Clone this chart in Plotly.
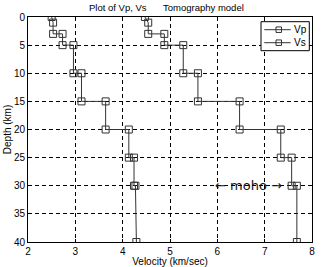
import plotly.graph_objects as go

depth = [0, 1, 3, 3, 5, 5, 10, 10, 15, 15, 20, 20, 25, 25, 30, 30, 40]
vp = [4.47, 4.54, 4.54, 4.88, 4.88, 5.28, 5.28, 5.59, 5.59, 6.47, 6.47, 7.34, 7.34, 7.57, 7.57, 7.68, 7.68]
vs = [2.50, 2.53, 2.53, 2.73, 2.73, 2.96, 2.96, 3.13, 3.13, 3.64, 3.64, 4.13, 4.13, 4.24, 4.24, 4.27, 4.29]
series_names = ["Vp", "Vs"]

xticks = [2, 3, 4, 5, 6, 7, 8]
yticks = [0, 5, 10, 15, 20, 25, 30, 35, 40]

FONT = "Liberation Sans Narrow, Arial Narrow, Liberation Sans, Arial, sans-serif"
LC = "#333333"

# plot area in pixels
L, R, T, B = 28, 312, 17, 242
W, H = 322, 267
def px(x):
    return (x - L) / (R - L)
def py(y):
    return 1 - (y - T) / (B - T)

fig = go.Figure()
for name, vals in zip(series_names, [vp, vs]):
    fig.add_trace(go.Scatter(
        x=vals, y=depth, name=name, mode="lines+markers",
        line=dict(color=LC, width=1),
        marker=dict(symbol="square-open", size=7, color=LC, line=dict(width=1, color=LC)),
        showlegend=False,
    ))

fig.add_annotation(x=6.66, y=30, xref="x", yref="y", text="\u2190 moho \u2192",
                   xanchor="center", yanchor="middle",
                   showarrow=False, font=dict(family="DejaVu Sans", size=13, color="#111111"))

# title pieces
fig.add_annotation(x=px(118), y=py(8), xref="paper", yref="paper", text="Plot of Vp, Vs",
                   xanchor="center", yanchor="middle",
                   showarrow=False, font=dict(family=FONT, size=9.5, color="black"))
fig.add_annotation(x=px(203.5), y=py(8), xref="paper", yref="paper", text="Tomography model",
                   xanchor="center", yanchor="middle",
                   showarrow=False, font=dict(family=FONT, size=9.5, color="black"))

# legend box (manual)
shapes = [dict(type="rect", xref="paper", yref="paper",
               x0=px(261), x1=px(309.3), y0=py(50.7), y1=py(21.7),
               line=dict(color="black", width=1), fillcolor="white", layer="above")]
for i, name in enumerate(series_names):
    yc = [29.7, 42.7][i]
    shapes.append(dict(type="line", xref="paper", yref="paper",
                       x0=px(264.3), x1=px(290.7), y0=py(yc), y1=py(yc),
                       line=dict(color=LC, width=1), layer="above"))
    shapes.append(dict(type="rect", xref="paper", yref="paper",
                       x0=px(276), x1=px(281.5), y0=py(yc + 2.75), y1=py(yc - 2.75),
                       line=dict(color=LC, width=1), fillcolor="rgba(0,0,0,0)", layer="above"))
    fig.add_annotation(x=px(292), y=py(yc), xref="paper", yref="paper", text=name,
                       xanchor="left", yanchor="middle", showarrow=False,
                       font=dict(family=FONT, size=10, color="black"))

axis_common = dict(
    showline=True, linecolor="black", linewidth=1, mirror=True,
    showgrid=True, gridcolor="black", gridwidth=1, griddash="4px,3px",
    zeroline=False, ticks="inside", ticklen=3, tickcolor="black",
    tickfont=dict(family=FONT, size=10, color="black"),
    automargin=False,
)

fig.update_layout(
    width=W, height=H,
    margin=dict(l=L, r=W - R, t=T, b=H - B),
    paper_bgcolor="white", plot_bgcolor="white",
    shapes=shapes,
    xaxis=dict(range=[2, 8], tickvals=xticks, ticktext=[str(t) for t in xticks],
               title=dict(text="Velocity (km/sec)", standoff=0,
                          font=dict(family=FONT, size=10, color="black")),
               **axis_common),
    yaxis=dict(range=[40, 0], tickvals=yticks, ticktext=[str(t) for t in yticks],
               title=dict(text="Depth (km)", standoff=0,
                          font=dict(family=FONT, size=10, color="black")),
               **axis_common),
    showlegend=False,
)

fig.write_html("out.html", config={"displayModeBar": False},
               post_script="document.body.style.margin='0';document.body.style.overflow='hidden';")
